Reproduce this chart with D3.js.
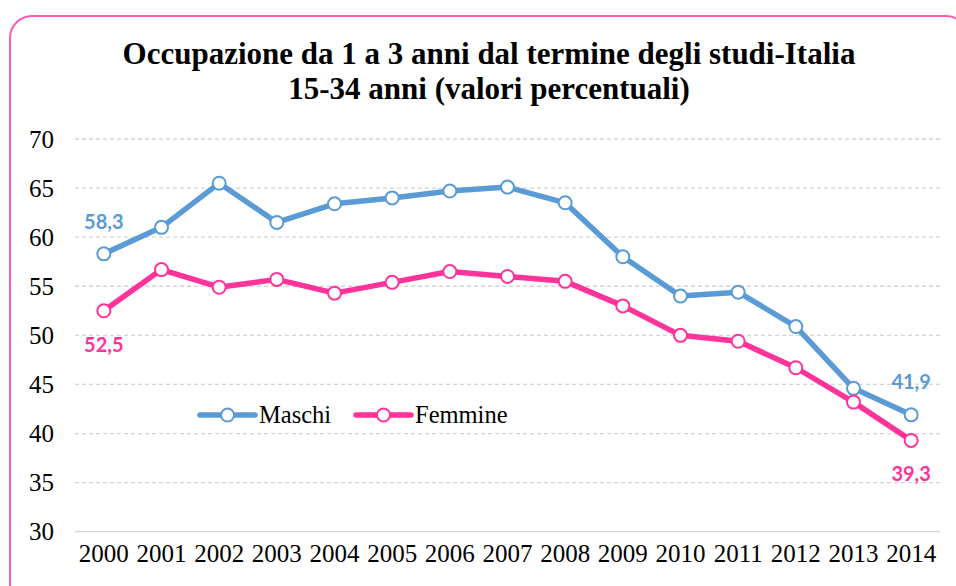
<!DOCTYPE html>
<html>
<head>
<meta charset="utf-8">
<script src="https://cdn.jsdelivr.net/npm/d3@7"></script>
<style>
  body { margin: 0; background: #fff; }
  svg { display: block; }
</style>
</head>
<body>
<svg id="chart"></svg>
<script>
var width = 956;
var height = 586;

var years = ['2000','2001','2002','2003','2004','2005','2006','2007','2008','2009','2010','2011','2012','2013','2014'];
var maschi = [58.3, 61.0, 65.5, 61.5, 63.4, 64.0, 64.7, 65.1, 63.5, 58.0, 54.0, 54.4, 50.9, 44.6, 41.9];
var femmine = [52.5, 56.7, 54.9, 55.7, 54.3, 55.4, 56.5, 56.0, 55.5, 53.0, 50.0, 49.4, 46.7, 43.2, 39.3];
var yTicks = [30, 35, 40, 45, 50, 55, 60, 65, 70];
var titleLines = ['Occupazione da 1 a 3 anni dal termine degli studi-Italia', '15-34 anni (valori percentuali)'];

var series = [
  {name: 'Maschi', values: maschi, color: '#5b9bd5'},
  {name: 'Femmine', values: femmine, color: '#ff3399'}
];

var serif = '"Liberation Serif", "DejaVu Serif", serif';

var svg = d3.select('#chart')
            .attr('width', width)
            .attr('height', height);

// frame
svg.append('rect')
   .attr('x', 10).attr('y', 16)
   .attr('width', 958).attr('height', 592)
   .attr('rx', 22)
   .attr('fill', '#fff')
   .attr('stroke', '#ff5ab0')
   .attr('stroke-width', 2);

// title
svg.selectAll('.title')
   .data(titleLines)
   .enter()
   .append('text')
     .classed('title', true)
     .attr('x', 489)
     .attr('y', (d, i) => 64 + i * 35)
     .attr('text-anchor', 'middle')
     .style('font-family', serif)
     .style('font-weight', 'bold')
     .style('font-size', '31px')
     .style('fill', '#000')
     .text(d => d);

var x = d3.scaleBand()
          .domain(years)
          .range([75, 940]);

var y = d3.scaleLinear()
          .domain([30, 70])
          .range([531.7, 139]);

// grid
svg.append('g')
   .selectAll('line')
   .data(yTicks)
   .enter()
   .append('line')
     .attr('x1', 75).attr('x2', 940)
     .attr('y1', d => y(d)).attr('y2', d => y(d))
     .attr('stroke', '#d4d4d4')
     .attr('stroke-width', 1.3)
     .attr('stroke-dasharray', d => d === 30 ? null : '4,3');

// y axis labels
var yAxis = svg.append('g')
               .attr('transform', 'translate(54,0)')
               .call(d3.axisLeft(y).tickValues(yTicks).tickSize(0).tickPadding(0));
yAxis.select('.domain').remove();
yAxis.selectAll('text')
     .style('font-family', serif)
     .style('font-size', '25px')
     .style('fill', '#000');

// x axis labels
var xAxis = svg.append('g')
               .attr('transform', 'translate(0,544)')
               .call(d3.axisBottom(x).tickSize(0).tickPadding(0));
xAxis.select('.domain').remove();
xAxis.selectAll('text')
     .style('font-family', serif)
     .style('font-size', '25px')
     .style('fill', '#000');

var cx = d => x(d) + x.bandwidth() / 2;

var line = d3.line()
             .x((d, i) => cx(years[i]))
             .y(d => y(d));

var lines = svg.selectAll('.series')
               .data(series)
               .enter()
               .append('g')
                 .classed('series', true);

lines.append('path')
     .attr('d', d => line(d.values))
     .attr('fill', 'none')
     .attr('stroke', d => d.color)
     .attr('stroke-width', 5.5)
     .attr('stroke-linejoin', 'round');

lines.selectAll('circle')
     .data(d => d.values.map(v => ({v: v, color: d.color})))
     .enter()
     .append('circle')
       .attr('cx', (d, i) => cx(years[i]))
       .attr('cy', d => y(d.v))
       .attr('r', 6.5)
       .attr('fill', '#fff')
       .attr('stroke', d => d.color)
       .attr('stroke-width', 2);

// end labels
var fmt = v => d3.format('.1f')(v).replace('.', ',');
var labels = [
  {s: 0, i: 0, dy: -25},
  {s: 1, i: 0, dy: 41},
  {s: 0, i: 14, dy: -26},
  {s: 1, i: 14, dy: 41}
];
svg.selectAll('.vlabel')
   .data(labels)
   .enter()
   .append('text')
     .classed('vlabel', true)
     .attr('x', d => cx(years[d.i]))
     .attr('y', d => y(series[d.s].values[d.i]) + d.dy)
     .attr('text-anchor', 'middle')
     .style('font-family', 'Lato, "Open Sans", sans-serif')
     .style('font-weight', 'bold')
     .style('font-size', '20px')
     .style('fill', d => series[d.s].color)
     .text(d => fmt(series[d.s].values[d.i]));

// legend
var legend = svg.selectAll('.legend')
                .data(series)
                .enter()
                .append('g')
                  .classed('legend', true)
                  .attr('transform', (d, i) => `translate(${200 + i * 156},415)`);
legend.append('line')
      .attr('x1', 0).attr('x2', 55)
      .attr('stroke', d => d.color)
      .attr('stroke-width', 5.5)
      .attr('stroke-linecap', 'round');
legend.append('circle')
      .attr('cx', 27.5)
      .attr('r', 6.5)
      .attr('fill', '#fff')
      .attr('stroke', d => d.color)
      .attr('stroke-width', 2);
legend.append('text')
      .attr('x', 59)
      .attr('y', 8)
      .style('font-family', serif)
      .style('font-size', '24.5px')
      .style('fill', '#000')
      .text(d => d.name);
</script>
</body>
</html>
